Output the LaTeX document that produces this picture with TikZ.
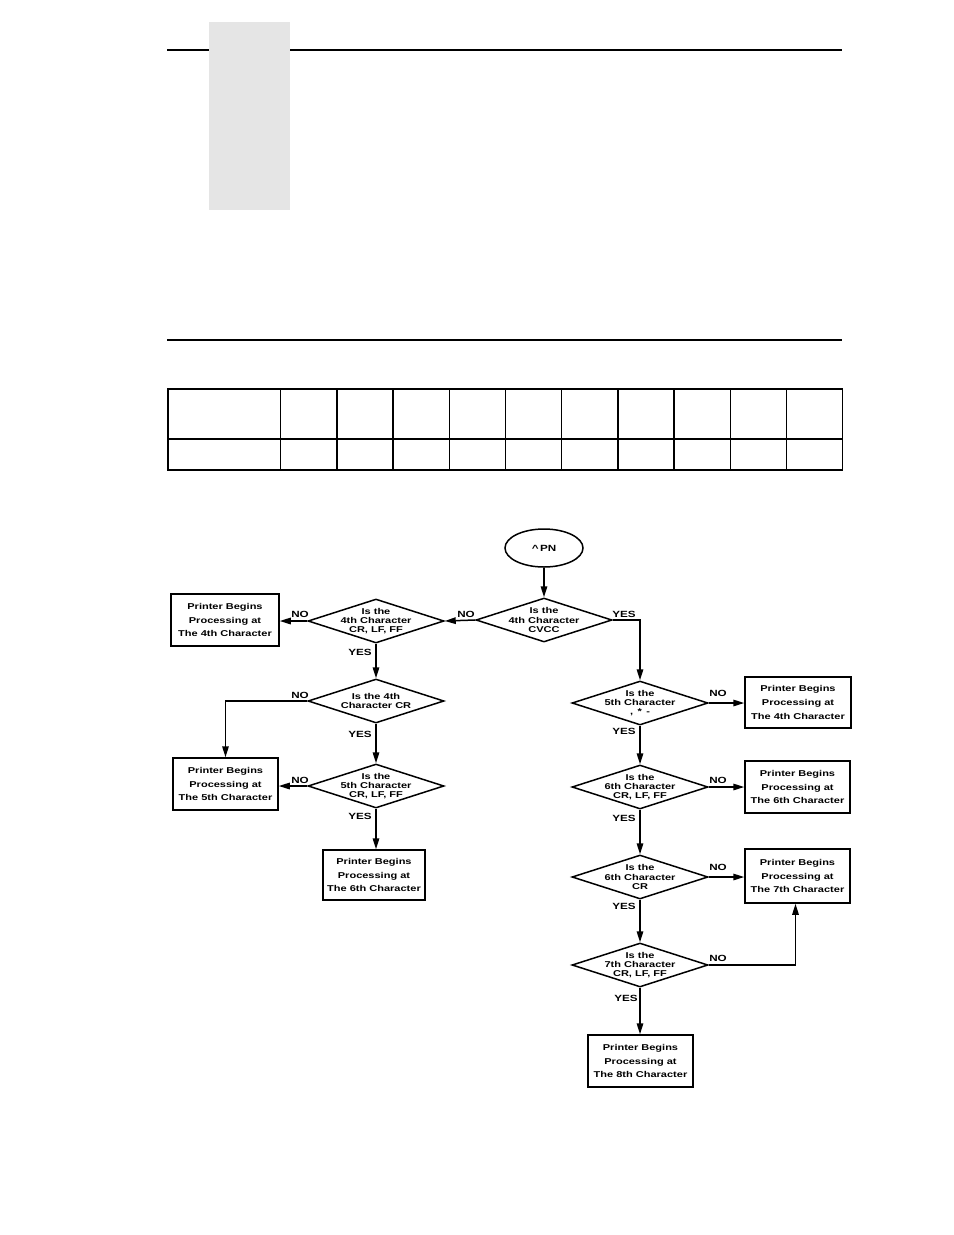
\documentclass[tikz,border=0pt]{standalone}
\usepackage{fontspec}
\setmainfont{Liberation Sans}
\newfontfamily\fcfont{Liberation Sans}[FakeStretch=1.3]
\usetikzlibrary{shapes.geometric,arrows.meta}
\begin{document}
\begin{tikzpicture}[x=1bp,y=-1bp,
  ln/.style={line width=1.5bp},
  arr/.style={ln,-{Triangle[length=11bp,width=6.5bp]}},
  dia/.style={draw,ln,diamond,minimum width=136bp,minimum height=44bp,inner sep=0pt,aspect=3},
  dtxt/.style={font=\fcfont\bfseries\fontsize{8.5}{9.3}\selectfont,align=center,inner sep=0pt},
  box/.style={draw,ln,rectangle,minimum width=105bp,minimum height=52bp,inner sep=0pt,align=center,font=\fcfont\bfseries\fontsize{8.5}{13.7}\selectfont},
  lab/.style={font=\fcfont\bfseries\fontsize{9}{9}\selectfont,inner sep=0pt}]
\useasboundingbox (0,0) rectangle (954,1235);
% header
\draw[line width=2bp] (167,50) -- (842,50);
\fill[gray!20] (209,22) rectangle (290,210);
\draw[line width=1.6bp] (167,340) -- (842,340);
% table
\draw[line width=1.3bp] (168,389) rectangle (842.5,470);
\draw[line width=1.3bp] (168,439) -- (842.5,439);
\foreach \i in {0,...,9} {
  \draw[line width=1.3bp] (280.7+56.2*\i,389) -- (280.7+56.2*\i,470);
}
% flowchart nodes
\node[draw,ln,ellipse,minimum width=78bp,minimum height=38bp,inner sep=0pt,font=\fcfont\bfseries\fontsize{9}{9}\selectfont] (ell) at (544,548) {\textasciicircum\,PN};
\node[dia,label={[dtxt]center:{Is the\\4th Character\\CVCC}}] (d1) at (544,620) {};
\node[dia,label={[dtxt]center:{Is the\\4th Character\\CR, LF, FF}}] (d2) at (376,621) {};
\node[dia,label={[dtxt]center:{Is the 4th\\Character CR}}] (d3) at (376,701) {};
\node[dia,label={[dtxt]center:{Is the\\5th Character\\, \,* \,-}}] (d5) at (640,703) {};
\node[dia,label={[dtxt]center:{Is the\\5th Character\\CR, LF, FF}}] (d4) at (376,786) {};
\node[dia,label={[dtxt]center:{Is the\\6th Character\\CR, LF, FF}}] (d6) at (640,787) {};
\node[dia,label={[dtxt]center:{Is the\\6th Character\\CR}}] (d7) at (640,877) {};
\node[dia,label={[dtxt]center:{Is the\\7th Character\\CR, LF, FF}}] (d8) at (640,965) {};
\node[box,minimum width=108bp] (b1) at (225,620) {Printer Begins\\Processing at\\The 4th Character};
\node[box] (b2) at (225.5,784) {Printer Begins\\Processing at\\The 5th Character};
\node[box,minimum width=102bp,minimum height=50bp] (b3) at (374,875) {Printer Begins\\Processing at\\The 6th Character};
\node[box,minimum width=106bp,minimum height=51bp] (b4) at (798,702.5) {Printer Begins\\Processing at\\The 4th Character};
\node[box] (b5) at (797.5,787) {Printer Begins\\Processing at\\The 6th Character};
\node[box,minimum height=54bp] (b6) at (797.5,876) {Printer Begins\\Processing at\\The 7th Character};
\node[box] (b7) at (640.5,1061) {Printer Begins\\Processing at\\The 8th Character};
% labels
\node[lab] (l1) at (466,614) {NO};
\node[lab] (l2) at (300,614) {NO};
\node[lab] (l3) at (624,614) {YES};
\node[lab] (l4) at (360,652) {YES};
\node[lab] (l5) at (300,695) {NO};
\node[lab] (l6) at (360,734) {YES};
\node[lab] (l7) at (300,780) {NO};
\node[lab] (l8) at (360,816) {YES};
\node[lab] (l9) at (718,693) {NO};
\node[lab] (l10) at (624,731) {YES};
\node[lab] (l11) at (718,780) {NO};
\node[lab] (l12) at (624,818) {YES};
\node[lab] (l13) at (718,867) {NO};
\node[lab] (l14) at (624,906) {YES};
\node[lab] (l15) at (718,958) {NO};
\node[lab] (l16) at (626,998) {YES};
% connectors
\draw[arr] (ell) -- (d1);
\draw[arr] (d1.west) -- (d2.east);
\draw[arr] (d2.west) -- (d2.west -| b1.east);
\draw[arr] (d1.east) -| (d5.north);
\draw[arr] (d2.south) -- (d3.north);
\draw[arr] (d3.west) -| (b2.north);
\draw[arr] (d3.south) -- (d4.north);
\draw[arr] (d4.west) -- (d4.west -| b2.east);
\draw[arr] (d4.south) -- (d4.south |- b3.north);
\draw[arr] (d5.east) -- (d5.east -| b4.west);
\draw[arr] (d5.south) -- (d6.north);
\draw[arr] (d6.east) -- (d6.east -| b5.west);
\draw[arr] (d6.south) -- (d7.north);
\draw[arr] (d7.east) -- (d7.east -| b6.west);
\draw[arr] (d7.south) -- (d8.north);
\draw[arr] (d8.east) -| ([xshift=-2bp]b6.south);
\draw[arr] (d8.south) -- (d8.south |- b7.north);
\end{tikzpicture}
\end{document}
